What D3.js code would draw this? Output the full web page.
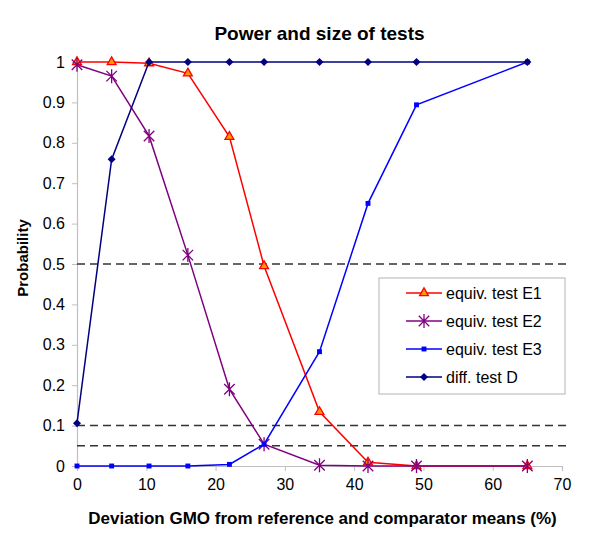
<!DOCTYPE html>
<html>
<head>
<meta charset="utf-8">
<script src="https://cdn.jsdelivr.net/npm/d3@7"></script>
<style>
  body { margin: 0; background: #fff; }
  svg { font-family: "Liberation Sans", Arial, sans-serif; }
</style>
</head>
<body>
<div id="chart"></div>
<script>
// data
const deviation = [0, 5, 10.4, 16, 22, 27, 35, 42, 49, 65];
const equivE1 = [1, 1, 0.997, 0.972, 0.815, 0.495, 0.134, 0.009, 0, 0];
const equivE2 = [0.993, 0.965, 0.817, 0.522, 0.19, 0.054, 0.002, 0, 0, 0];
const equivE3 = [0, 0, 0, 0, 0.004, 0.054, 0.283, 0.65, 0.894, 1];
const diffD = [0.106, 0.759, 1, 1, 1, 1, 1, 1, 1, 1];
const thresholds = [0.5, 0.1, 0.05];
const thresholdSpan = [0, 71];
const xTicks = [0, 10, 20, 30, 40, 50, 60, 70];
const yTicks = [0, 0.1, 0.2, 0.3, 0.4, 0.5, 0.6, 0.7, 0.8, 0.9, 1];
const seriesNames = ['equiv. test E1', 'equiv. test E2', 'equiv. test E3', 'diff. test D'];

const width = 600, height = 544;
const margin = { top: 62, right: 38, bottom: 78, left: 77 };

const x = d3.scaleLinear().domain([0, 70]).range([margin.left, width - margin.right]);
const y = d3.scaleLinear().domain([0, 1]).range([height - margin.bottom, margin.top]);

// Excel-like star: an X with a vertical bar
const star = {
  draw(ctx, size) {
    const r = Math.sqrt(size) / 2;
    const d = r * 0.75;
    ctx.moveTo(-d, -d); ctx.lineTo(d, d);
    ctx.moveTo(-d, d); ctx.lineTo(d, -d);
    ctx.moveTo(0, -r); ctx.lineTo(0, r);
  }
};

const series = [
  { name: seriesNames[0], values: equivE1, stroke: '#ff0000', symbol: d3.symbolTriangle, size: 34, fill: '#ff9900', mstroke: '#ff0000' },
  { name: seriesNames[1], values: equivE2, stroke: '#800080', symbol: star, size: 196, fill: 'none', mstroke: '#800080' },
  { name: seriesNames[2], values: equivE3, stroke: '#0000ff', symbol: d3.symbolSquare, size: 24, fill: '#0000ff', mstroke: 'none' },
  { name: seriesNames[3], values: diffD, stroke: '#000080', symbol: d3.symbolSquare, size: 32, fill: '#000080', mstroke: 'none', rotate: 45 }
];

const svg = d3.select('#chart')
  .append('svg')
  .attr('width', width)
  .attr('height', height);

// Title
svg.append('text')
  .attr('x', (x(0) + x(70)) / 2)
  .attr('y', 40)
  .attr('text-anchor', 'middle')
  .style('font-size', '19px')
  .style('font-weight', 'bold')
  .text('Power and size of tests');

// Axes
const xAxis = svg.append('g')
  .attr('transform', `translate(0,${y(0)})`)
  .call(d3.axisBottom(x).tickValues(xTicks).tickSize(5).tickPadding(8).tickFormat(d3.format('d')));

const yAxis = svg.append('g')
  .attr('transform', `translate(${x(0)},0)`)
  .call(d3.axisLeft(y).tickValues(yTicks).tickSize(5).tickPadding(7).tickFormat(d => d3.format('')(+d.toFixed(1))));

[xAxis, yAxis].forEach(g => {
  g.select('.domain').attr('stroke', '#c0c0c0').attr('stroke-width', 1.2);
  g.selectAll('.tick line').attr('stroke', '#c0c0c0');
  g.selectAll('.tick text').style('font-size', '16px').attr('fill', '#000');
});

// Axis titles
svg.append('text')
  .attr('x', (x(0) + x(70)) / 2 + 3)
  .attr('y', 524)
  .attr('text-anchor', 'middle')
  .style('font-size', '17px')
  .style('font-weight', 'bold')
  .text('Deviation GMO from reference and comparator means (%)');

svg.append('text')
  .attr('transform', `translate(28,258) rotate(-90)`)
  .attr('text-anchor', 'middle')
  .style('font-size', '15px')
  .style('font-weight', 'bold')
  .text('Probability');

// Threshold lines
svg.append('g')
  .selectAll('line')
  .data(thresholds)
  .join('line')
  .attr('x1', x(thresholdSpan[0]))
  .attr('x2', x(thresholdSpan[1]))
  .attr('y1', d => y(d))
  .attr('y2', d => y(d))
  .attr('stroke', '#333')
  .attr('stroke-width', 1.5)
  .attr('stroke-dasharray', '8,5');

// Series lines and markers
const line = d3.line()
  .x((d, i) => x(deviation[i]))
  .y(d => y(d));

series.forEach(s => {
  svg.append('path')
    .datum(s.values)
    .attr('fill', 'none')
    .attr('stroke', s.stroke)
    .attr('stroke-width', 1.5)
    .attr('d', line);

  svg.append('g')
    .selectAll('path')
    .data(s.values)
    .join('path')
    .attr('transform', (d, i) => `translate(${x(deviation[i])},${y(d)})` + (s.rotate ? ` rotate(${s.rotate})` : ''))
    .attr('d', d3.symbol().type(s.symbol).size(s.size))
    .attr('fill', s.fill)
    .attr('stroke', s.mstroke)
    .attr('stroke-width', 1.3);
});

// Legend
const legend = svg.append('g').attr('transform', 'translate(379,278)');

legend.append('rect')
  .attr('width', 186)
  .attr('height', 116)
  .attr('fill', '#fff')
  .attr('stroke', '#b4b4b4');

const item = legend.selectAll('.item')
  .data(series)
  .join('g')
  .attr('class', 'item')
  .attr('transform', (d, i) => `translate(0,${15 + i * 28})`);

item.append('line')
  .attr('x1', 27)
  .attr('x2', 63)
  .attr('stroke', d => d.stroke)
  .attr('stroke-width', 1.5);

item.append('path')
  .attr('transform', d => `translate(45,0)` + (d.rotate ? ` rotate(${d.rotate})` : ''))
  .attr('d', d => d3.symbol().type(d.symbol).size(d.size)())
  .attr('fill', d => d.fill)
  .attr('stroke', d => d.mstroke)
  .attr('stroke-width', 1.3);

item.append('text')
  .attr('x', 67)
  .attr('dy', '0.35em')
  .style('font-size', '16px')
  .text(d => d.name);
</script>
</body>
</html>
